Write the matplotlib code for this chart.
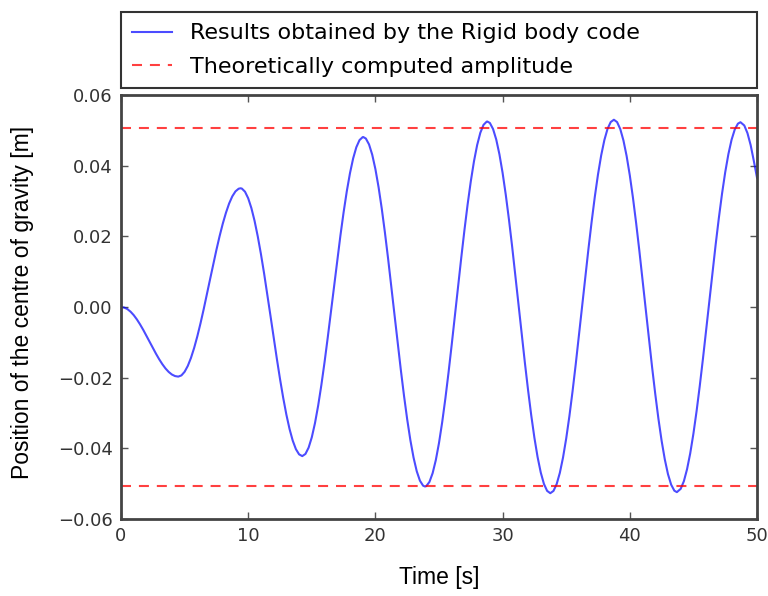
import matplotlib
matplotlib.use("Agg")
import matplotlib.pyplot as plt

# --- data ---
time_s = [
    0.0, 0.25, 0.5, 0.75, 1.0, 1.25, 1.5, 1.75, 2.0, 2.25,
    2.5, 2.75, 3.0, 3.25, 3.5, 3.75, 4.0, 4.25, 4.5, 4.75,
    5.0, 5.25, 5.5, 5.75, 6.0, 6.25, 6.5, 6.75, 7.0, 7.25,
    7.5, 7.75, 8.0, 8.25, 8.5, 8.75, 9.0, 9.25, 9.4, 9.5,
    9.75, 10.0, 10.25, 10.5, 10.75, 11.0, 11.25, 11.5, 11.75, 12.0,
    12.25, 12.5, 12.75, 13.0, 13.25, 13.5, 13.75, 14.0, 14.25, 14.5,
    14.75, 15.0, 15.25, 15.5, 15.75, 16.0, 16.25, 16.5, 16.75, 17.0,
    17.25, 17.5, 17.75, 18.0, 18.25, 18.5, 18.75, 19.0, 19.05, 19.25,
    19.5, 19.75, 20.0, 20.25, 20.5, 20.75, 21.0, 21.25, 21.5, 21.75,
    22.0, 22.25, 22.5, 22.75, 23.0, 23.25, 23.5, 23.75, 23.9, 24.0,
    24.25, 24.5, 24.75, 25.0, 25.25, 25.5, 25.75, 26.0, 26.25, 26.5,
    26.75, 27.0, 27.25, 27.5, 27.75, 28.0, 28.25, 28.5, 28.75, 28.8,
    29.0, 29.25, 29.5, 29.75, 30.0, 30.25, 30.5, 30.75, 31.0, 31.25,
    31.5, 31.75, 32.0, 32.25, 32.5, 32.75, 33.0, 33.25, 33.5, 33.75,
    34.0, 34.25, 34.5, 34.75, 35.0, 35.25, 35.5, 35.75, 36.0, 36.25,
    36.5, 36.75, 37.0, 37.25, 37.5, 37.75, 38.0, 38.25, 38.5, 38.75,
    39.0, 39.25, 39.5, 39.75, 40.0, 40.25, 40.5, 40.75, 41.0, 41.25,
    41.5, 41.75, 42.0, 42.25, 42.5, 42.75, 43.0, 43.25, 43.5, 43.7,
    44.0, 44.25, 44.5, 44.75, 45.0, 45.25, 45.5, 45.75, 46.0, 46.25,
    46.5, 46.75, 47.0, 47.25, 47.5, 47.75, 48.0, 48.25, 48.5, 48.7,
    49.0, 49.25, 49.5, 49.75, 50.0,
]
position_m = [
    0.0, -0.00015, -0.00059, -0.00132, -0.00230, -0.00352, -0.00493, -0.00648, -0.00814, -0.00985,
    -0.01156, -0.01322, -0.01478, -0.01618, -0.01740, -0.01838, -0.01911, -0.01955, -0.0197, -0.01936,
    -0.01834, -0.01668, -0.01441, -0.01159, -0.00830, -0.00462, -0.00063, 0.00354, 0.00781, 0.01203,
    0.01615, 0.02003, 0.02357, 0.02666, 0.02929, 0.03132, 0.03273, 0.03348, 0.0336, 0.03352,
    0.03263, 0.03077, 0.02800, 0.02439, 0.02001, 0.01501, 0.00950, 0.00362, -0.00245, -0.00858,
    -0.01459, -0.02035, -0.02567, -0.03044, -0.03452, -0.03781, -0.04023, -0.04170, -0.0422, -0.04159,
    -0.03980, -0.03687, -0.03287, -0.02791, -0.02213, -0.01568, -0.00873, -0.00147, 0.00590, 0.01320,
    0.02023, 0.02679, 0.03272, 0.03785, 0.04205, 0.04521, 0.04723, 0.04808, 0.0481, 0.04768,
    0.04601, 0.04311, 0.03903, 0.03390, 0.02785, 0.02103, 0.01363, 0.00583, -0.00214, -0.01011,
    -0.01783, -0.02514, -0.03181, -0.03770, -0.04263, -0.04648, -0.04915, -0.05057, -0.0508, -0.05069,
    -0.04950, -0.04702, -0.04332, -0.03848, -0.03262, -0.02592, -0.01853, -0.01064, -0.00246, 0.00581,
    0.01395, 0.02176, 0.02903, 0.03557, 0.04124, 0.04585, 0.04932, 0.05155, 0.05247, 0.0525,
    0.05208, 0.05037, 0.04740, 0.04322, 0.03796, 0.03175, 0.02474, 0.01711, 0.00903, 0.00074,
    -0.00759, -0.01572, -0.02345, -0.03061, -0.03700, -0.04246, -0.04685, -0.05008, -0.05204, -0.0527,
    -0.05205, -0.05012, -0.04694, -0.04261, -0.03722, -0.03092, -0.02384, -0.01618, -0.00812, 0.00015,
    0.00842, 0.01648, 0.02414, 0.03122, 0.03752, 0.04291, 0.04724, 0.05042, 0.05235, 0.0530,
    0.05234, 0.05037, 0.04714, 0.04274, 0.03727, 0.03087, 0.02370, 0.01595, 0.00780, -0.00054,
    -0.00885, -0.01694, -0.02458, -0.03162, -0.03783, -0.04310, -0.04729, -0.05027, -0.05198, -0.0524,
    -0.05147, -0.04931, -0.04592, -0.04142, -0.03588, -0.02948, -0.02234, -0.01466, -0.00661, 0.00159,
    0.00976, 0.01768, 0.02517, 0.03204, 0.03811, 0.04325, 0.04732, 0.05022, 0.05189, 0.0523,
    0.05138, 0.04921, 0.04584, 0.04135, 0.0366,
]
assert len(time_s) == len(position_m)

amplitude_m = 0.0507   # theoretically computed amplitude

x_ticks = [0, 10, 20, 30, 40, 50]
y_ticks = [-0.06, -0.04, -0.02, 0.00, 0.02, 0.04, 0.06]

# --- figure ---
fig = plt.figure(figsize=(7.68, 5.96), dpi=100)
ax = fig.add_axes([121 / 768, 1 - 519 / 596, 636 / 768, 424 / 596])

ax.plot(time_s, position_m, color="#0000ff", alpha=0.7, linewidth=1.5,
        label="Results obtained by the Rigid body code")
dash = (0, (4.8, 3.8))
ax.axhline(amplitude_m, color="#ff0000", alpha=0.75, linewidth=1.5,
           linestyle=dash, label="Theoretically computed amplitude")
ax.axhline(-amplitude_m, color="#ff0000", alpha=0.75, linewidth=1.5,
           linestyle=dash)

ax.set_xlim(0, 50)
ax.set_ylim(-0.06, 0.06)
ax.set_xticks(x_ticks)
ax.set_yticks(y_ticks)
ax.set_yticklabels([f"{v:.2f}".replace("-", "\u2212") for v in y_ticks])
ax.tick_params(direction="in", top=True, right=True, length=5, width=1,
               color="#555555", labelsize=13, labelcolor="#333333", pad=6)
for sp in ax.spines.values():
    sp.set_linewidth(2)
    sp.set_color("#444444")

ax.set_xlabel("Time [s]", fontsize=16.5, family="Liberation Sans")
ax.set_ylabel("Position of the centre of gravity [m]", fontsize=16.5,
              family="Liberation Sans")
ax.xaxis.set_label_coords(0.5, -0.11)
ax.yaxis.set_label_coords(-0.137, 0.51)

leg = ax.legend(loc="lower left", bbox_to_anchor=(0, 1.016, 1, 0.184),
                mode="expand", borderaxespad=0, fontsize=16, fancybox=False,
                framealpha=1, handlelength=1.8, handletextpad=0.8,
                labelspacing=0.62, borderpad=0.5)
leg.get_frame().set_edgecolor("#333333")
leg.get_frame().set_linewidth(1.5)

fig.savefig("out.png", dpi=100)
